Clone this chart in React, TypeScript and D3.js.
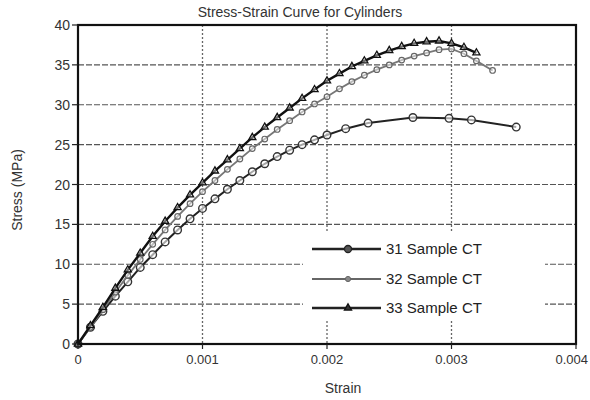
import React from "react";
import * as d3 from "d3";

const strain31 = [0, 0.0001, 0.0002, 0.0003, 0.0004, 0.0005, 0.0006, 0.0007, 0.0008, 0.0009, 0.001, 0.0011, 0.0012, 0.0013, 0.0014, 0.0015, 0.0016, 0.0017, 0.0018, 0.0019, 0.002, 0.00215, 0.00233, 0.00269, 0.00298, 0.00316, 0.00352];
const stress31 = [0, 2.1, 4.1, 6.0, 7.8, 9.6, 11.2, 12.8, 14.3, 15.7, 17.0, 18.2, 19.4, 20.5, 21.6, 22.6, 23.5, 24.3, 25.0, 25.6, 26.2, 27.0, 27.7, 28.4, 28.3, 28.1, 27.2];

const strain32 = [0, 0.0001, 0.0002, 0.0003, 0.0004, 0.0005, 0.0006, 0.0007, 0.0008, 0.0009, 0.001, 0.0011, 0.0012, 0.0013, 0.0014, 0.0015, 0.0016, 0.0017, 0.0018, 0.0019, 0.002, 0.0021, 0.0022, 0.0023, 0.0024, 0.0025, 0.0026, 0.0027, 0.0028, 0.0029, 0.003, 0.0031, 0.0032, 0.00333];
const stress32 = [0, 2.1, 4.3, 6.5, 8.6, 10.6, 12.5, 14.3, 16.0, 17.6, 19.1, 20.5, 21.9, 23.2, 24.5, 25.7, 26.9, 28.0, 29.1, 30.1, 31.0, 32.0, 32.9, 33.7, 34.4, 35.0, 35.6, 36.1, 36.5, 36.9, 37.0, 36.4, 35.5, 34.3];

const strain33 = [0, 0.0001, 0.0002, 0.0003, 0.0004, 0.0005, 0.0006, 0.0007, 0.0008, 0.0009, 0.001, 0.0011, 0.0012, 0.0013, 0.0014, 0.0015, 0.0016, 0.0017, 0.0018, 0.0019, 0.002, 0.0021, 0.0022, 0.0023, 0.0024, 0.0025, 0.0026, 0.0027, 0.0028, 0.0029, 0.003, 0.0031, 0.0032];
const stress33 = [0, 2.3, 4.6, 7.0, 9.3, 11.4, 13.5, 15.4, 17.1, 18.7, 20.2, 21.7, 23.1, 24.5, 25.9, 27.2, 28.4, 29.6, 30.8, 31.9, 33.0, 33.9, 34.8, 35.5, 36.2, 36.8, 37.3, 37.7, 37.9, 38.0, 37.7, 37.2, 36.5];

const xTicks = [0, 0.001, 0.002, 0.003, 0.004];
const xTickLabels = ["0", "0.001", "0.002", "0.003", "0.004"];
const yTicks = [0, 5, 10, 15, 20, 25, 30, 35, 40];
const seriesNames = ["31 Sample CT", "32 Sample CT", "33 Sample CT"];

const W = 590, H = 400;
const L = 78, R = 576, T = 25, B = 344;

export default function App() {
  const x = d3.scaleLinear().domain([0, 0.004]).range([L, R]);
  const y = d3.scaleLinear().domain([0, 40]).range([B, T]);
  const line = d3.line<[number, number]>().x(d => x(d[0])).y(d => y(d[1]));
  const d31 = strain31.map((s, i) => [s, stress31[i]] as [number, number]);
  const d32 = strain32.map((s, i) => [s, stress32[i]] as [number, number]);
  const d33 = strain33.map((s, i) => [s, stress33[i]] as [number, number]);
  const tri = d3.symbol().type(d3.symbolTriangle).size(22)();
  const font = "Arial, 'Liberation Sans', sans-serif";

  const legendY = [249, 279, 308];
  return (
    <svg width={W} height={H} style={{ position: "absolute", left: 0, top: 0, background: "#fff" }} fontFamily={font}>
      <rect x={0} y={0} width={W} height={H} fill="#fff" />
      {/* grid */}
      {yTicks.filter(t => t > 0 && t < 40).map(t => (
        <line key={"gy" + t} x1={L} x2={R} y1={y(t)} y2={y(t)} stroke="#555" strokeWidth={1.2} strokeDasharray="6,2" />
      ))}
      {xTicks.filter(t => t > 0 && t < 0.004).map(t => (
        <line key={"gx" + t} x1={x(t)} x2={x(t)} y1={T} y2={B} stroke="#666" strokeWidth={1.3} strokeDasharray="2,2" />
      ))}
      {/* series 31 */}
      <path d={line(d31) || ""} fill="none" stroke="#222" strokeWidth={2} />
      {d31.map((p, i) => (
        <circle key={"c31" + i} cx={x(p[0])} cy={y(p[1])} r={3.8} fill="#fff" fillOpacity={0.6} stroke="#333" strokeWidth={1.4} />
      ))}
      {/* series 32 */}
      <path d={line(d32) || ""} fill="none" stroke="#777" strokeWidth={1.8} />
      {d32.map((p, i) => (
        <circle key={"c32" + i} cx={x(p[0])} cy={y(p[1])} r={2.8} fill="#fff" fillOpacity={0.5} stroke="#666" strokeWidth={1.2} />
      ))}
      {/* series 33 */}
      <path d={line(d33) || ""} fill="none" stroke="#111" strokeWidth={2.4} />
      {d33.map((p, i) => (
        <path key={"c33" + i} d={tri || ""} transform={`translate(${x(p[0])},${y(p[1])})`} fill="#fff" fillOpacity={0.4} stroke="#111" strokeWidth={1.3} />
      ))}
      {/* legend */}
      <rect x={303} y={232} width={242} height={88} fill="#fff" />
      {seriesNames.map((n, i) => (
        <g key={n}>
          <line x1={312} x2={381} y1={legendY[i]} y2={legendY[i]} stroke={i === 1 ? "#666" : "#222"} strokeWidth={i === 1 ? 1.8 : 2.6} />
          {i === 0 && <circle cx={348} cy={legendY[i]} r={3.5} fill="#555" stroke="#222" strokeWidth={1.3} />}
          {i === 1 && <circle cx={348} cy={legendY[i]} r={2.6} fill="#888" stroke="#666" strokeWidth={1} />}
          {i === 2 && <path d={tri || ""} transform={`translate(348,${legendY[i]})`} fill="#333" stroke="#111" strokeWidth={1.3} />}
          <text x={386} y={legendY[i] + 5} fontSize={15} fill="#222">{n}</text>
        </g>
      ))}
      {/* frame */}
      <rect x={L} y={T} width={R - L} height={B - T} fill="none" stroke="#111" strokeWidth={2.2} />
      {/* ticks */}
      {yTicks.map(t => (
        <g key={"ty" + t}>
          <line x1={L - 6} x2={L} y1={y(t)} y2={y(t)} stroke="#222" strokeWidth={1.2} />
          <text x={L - 8} y={y(t) + 5} fontSize={14} textAnchor="end" fill="#333">{t}</text>
        </g>
      ))}
      {xTicks.map((t, i) => {
        const last = i === xTicks.length - 1;
        return (
          <g key={"tx" + t}>
            <line x1={x(t)} x2={x(t)} y1={B} y2={B + 5} stroke="#222" strokeWidth={1.2} />
            <text x={last ? W - 2 : x(t)} y={B + 20} fontSize={13} textAnchor={last ? "end" : "middle"} fill="#333">{xTickLabels[i]}</text>
          </g>
        );
      })}
      <text x={300} y={17} fontSize={14} textAnchor="middle" fill="#333">Stress-Strain Curve for Cylinders</text>
      <text x={343} y={393} fontSize={14} textAnchor="middle" fill="#333">Strain</text>
      <text transform={`translate(22,${190}) rotate(-90)`} fontSize={14} textAnchor="middle" fill="#333">Stress (MPa)</text>
    </svg>
  );
}
